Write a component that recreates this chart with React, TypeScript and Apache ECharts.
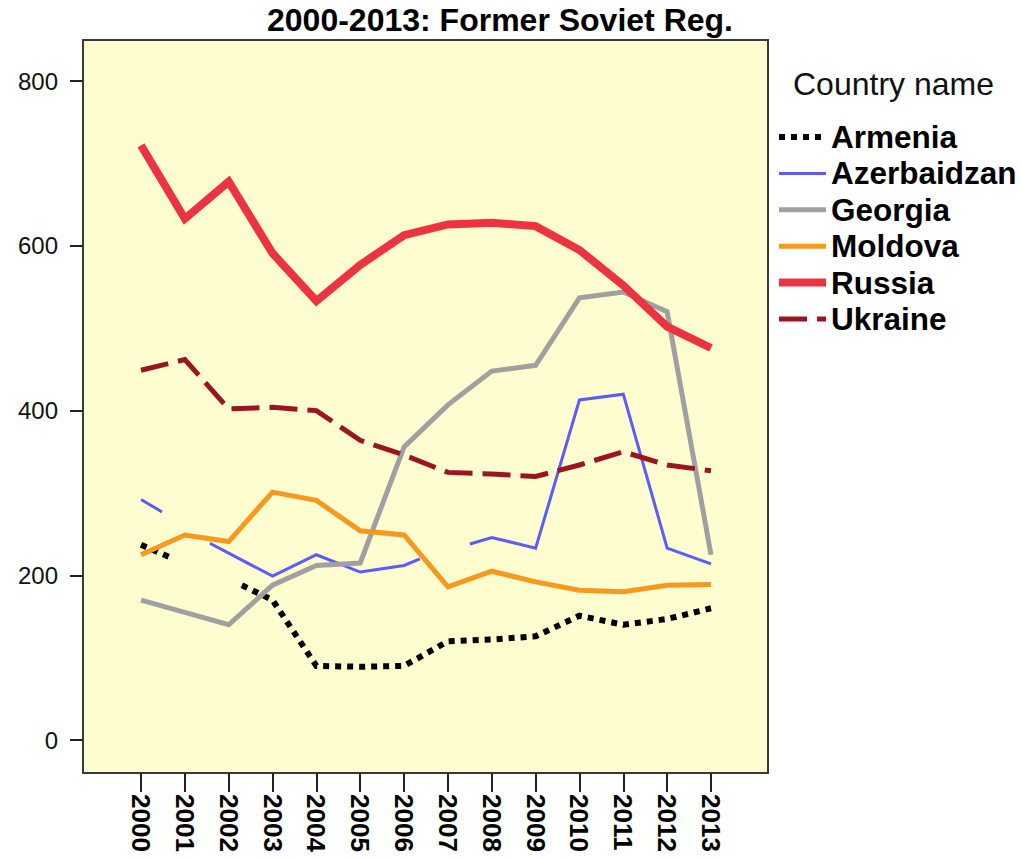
import React, { useEffect, useRef } from "react";
import * as echarts from "echarts";

// Years (tick labels)
const years = [2000, 2001, 2002, 2003, 2004, 2005, 2006, 2007, 2008, 2009, 2010, 2011, 2012, 2013];
const yTicks = [0, 200, 400, 600, 800];

// Series values; null breaks the line where the picture has a gap.
// Some series have gaps that begin/end between years; those ends are read as [year, value].
const armenia: ([number, number | null])[] = [
  [2000, 237], [2000.66, 222], [2001.5, null], [2002.3, 188], [2003, 170], [2004, 90],
  [2005, 89], [2006, 90], [2007, 120], [2008, 122], [2009, 126], [2010, 151],
  [2011, 140], [2012, 147], [2013, 160],
];
const azerbaidzan: ([number, number | null])[] = [
  [2000, 292], [2000.48, 277], [2001, null], [2001.57, 239], [2002, 227], [2003, 199],
  [2004, 225], [2005, 204], [2006, 212], [2006.36, 220], [2007, null], [2007.5, 238],
  [2008, 246], [2009, 233], [2010, 413], [2011, 420], [2012, 233], [2013, 214],
];
const georgia = [170, 155, 140, 188, 212, 215, 356, 407, 448, 455, 537, 544, 520, 225];
const moldova = [225, 249, 241, 301, 291, 254, 249, 186, 205, 192, 182, 180, 188, 189];
const russia = [722, 633, 678, 591, 533, 577, 613, 626, 628, 624, 595, 552, 502, 476];
const ukraine = [449, 462, 402, 404, 400, 364, 346, 325, 323, 320, 334, 350, 334, 327];

const countries = ["Armenia", "Azerbaidzan", "Georgia", "Moldova", "Russia", "Ukraine"];

const pair = (vals: number[]) => vals.map((v, i) => [years[i], v]);

export default function App() {
  const ref = useRef<HTMLDivElement>(null);
  useEffect(() => {
    if (!ref.current) return;
    const chart = echarts.init(ref.current, null, { renderer: "svg" });
    const font = "'Liberation Sans', Arial, sans-serif";
    const styles: Record<string, any> = {
      Armenia: { color: "#000000", width: 6, type: [6, 6] },
      Azerbaidzan: { color: "#5b5bff", width: 3, type: "solid" },
      Georgia: { color: "#a0a0a0", width: 5, type: "solid" },
      Moldova: { color: "#f8981d", width: 5, type: "solid" },
      Russia: { color: "#ee3340", width: 8, type: "solid" },
      Ukraine: { color: "#9b1520", width: 5, type: [28, 10] },
    };
    const dataMap: Record<string, any[]> = {
      Armenia: armenia,
      Azerbaidzan: azerbaidzan,
      Georgia: pair(georgia),
      Moldova: pair(moldova),
      Russia: pair(russia),
      Ukraine: pair(ukraine),
    };
    const option: any = {
      animation: false,
      backgroundColor: "#ffffff",
      title: [
        {
          text: "2000-2013: Former Soviet Reg.",
          left: 267,
          top: 4,
          padding: 0,
          textStyle: { fontFamily: font, fontWeight: "bold", fontSize: 32, color: "#000" },
        },
        {
          text: "Country name",
          left: 793,
          top: 68,
          padding: 0,
          textStyle: { fontFamily: font, fontWeight: "normal", fontSize: 32, color: "#111" },
        },
      ],
      legend: {
        orient: "vertical",
        left: 775,
        top: 121,
        padding: 0,
        itemWidth: 47,
        itemHeight: 14,
        itemGap: 4.4,
        textStyle: { fontFamily: font, fontWeight: "bold", fontSize: 31.5, lineHeight: 31, color: "#000" },
        data: countries.map((c) => ({
          name: c,
          itemStyle: { opacity: 0, color: "rgba(0,0,0,0)", borderColor: "rgba(0,0,0,0)", borderWidth: 0 },
          lineStyle: { color: styles[c].color, width: styles[c].width, type: styles[c].type, cap: "butt", opacity: 1 },
        })),
      },
      grid: [
        {
          left: 83, right: 253, top: 40, bottom: 86,
          show: true, backgroundColor: "#fefdd0", borderColor: "#3a3a3a", borderWidth: 2,
        },
        { left: 141, right: 310, top: 40, bottom: 86, show: false },
        { left: 83, right: 253, top: 81, bottom: 119, show: false },
      ],
      xAxis: [
        { gridIndex: 0, type: "value", min: 1998.677, max: 2014.3, show: false },
        {
          gridIndex: 1, type: "value", min: 2000, max: 2013, interval: 1, position: "bottom",
          axisLine: { show: false },
          splitLine: { show: false },
          axisTick: { show: true, length: 19, lineStyle: { color: "#222", width: 2 } },
          axisLabel: {
            rotate: -90, margin: 21, fontFamily: font, fontWeight: "bold", fontSize: 26, color: "#000",
            formatter: (v: number) => String(v),
          },
        },
        { gridIndex: 2, type: "value", min: 0, max: 1, show: false },
      ],
      yAxis: [
        { gridIndex: 0, type: "value", min: -40, max: 850, show: false },
        { gridIndex: 1, type: "value", min: 0, max: 1, show: false },
        {
          gridIndex: 2, type: "value", min: 0, max: 800, interval: 200,
          axisLine: { show: false },
          splitLine: { show: false },
          axisTick: { show: true, length: 13, lineStyle: { color: "#222", width: 2 } },
          axisLabel: { margin: 25, fontFamily: font, fontSize: 24, color: "#111" },
          data: yTicks,
        },
      ],
      series: countries.map((c) => ({
        name: c,
        type: "line",
        xAxisIndex: 0,
        yAxisIndex: 0,
        symbol: "none",
        connectNulls: false,
        lineStyle: { color: styles[c].color, width: styles[c].width, type: styles[c].type, cap: "butt", join: "miter" },
        itemStyle: { color: styles[c].color },
        data: dataMap[c],
      })),
    };
    chart.setOption(option);
    return () => chart.dispose();
  }, []);
  return (
    <div
      ref={ref}
      style={{ position: "fixed", left: 0, top: 0, width: 1021, height: 859 }}
    />
  );
}
